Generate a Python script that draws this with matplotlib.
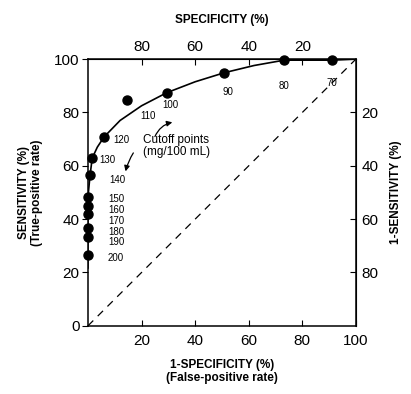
import matplotlib.pyplot as plt
import numpy as np

plt.rcParams['font.family'] = ['Liberation Sans', 'DejaVu Sans']

# cutoff points (mg/100 mL) and their ROC coordinates
cutoffs = [200, 190, 180, 170, 160, 150, 140, 130, 120, 110, 100, 90, 80, 70]
fpr = [0, 0, 0, 0, 0, 0, 0.8, 1.6, 6.0, 14.7, 29.4, 50.9, 73.2, 91.2]
tpr = [26.6, 33.3, 36.7, 41.9, 44.9, 48.3, 56.6, 62.9, 70.8, 84.5, 87.4, 94.9, 99.6, 99.6]

# hand-drawn fitted curve (skips the 110 point)
curve_x = [0, 0, 0, 0.8, 1.6, 3.5, 6.0, 12, 20, 29.4, 40, 50.9, 62, 73.2, 91.2, 100]
curve_y = [21.7, 26.6, 48.3, 56.6, 62.9, 67, 70.8, 77, 82.5, 87.4, 91.5, 94.9, 97.6, 99.6, 99.6, 100]

# where each cutoff label sits
lab_x = [7.5, 7.5, 7.5, 7.5, 7.5, 7.5, 7.8, 4.2, 9.5, 19.5, 30.6, 52.4, 73.2, 91.2]
lab_y = [25.4, 31.3, 35.3, 39.3, 43.4, 47.5, 54.5, 62.0, 69.5, 78.6, 82.7, 87.6, 89.9, 91.1]

fig = plt.figure(figsize=(4.11, 3.94), dpi=100)
ax = fig.add_axes([0.214, 0.173, 0.652, 0.677])

ax.plot([0, 100], [0, 100], ls=(0, (6, 5)), color='black', lw=0.9)
ax.plot(curve_x, curve_y, color='black', lw=1.2)
ax.plot(fpr, tpr, 'o', color='black', ms=6.5, clip_on=False)

for i in range(len(cutoffs)):
    ha = 'center' if cutoffs[i] <= 100 else 'left'
    ax.text(lab_x[i], lab_y[i], str(cutoffs[i]), fontsize=7, ha=ha, va='center')

ax.text(20.5, 67.4, 'Cutoff points\n(mg/100 mL)', fontsize=8.5, ha='left', va='center',
        linespacing=1.0)
ax.annotate('', xy=(32.5, 76.5), xytext=(24.6, 70.0),
            arrowprops=dict(arrowstyle='-|>', color='black', lw=0.9,
                            connectionstyle='arc3,rad=-0.3', mutation_scale=8))
ax.annotate('', xy=(13.8, 56.9), xytext=(17.5, 65.7),
            arrowprops=dict(arrowstyle='-|>', color='black', lw=0.9,
                            connectionstyle='arc3,rad=0.1', mutation_scale=8))

ax.set_xlim(0, 100)
ax.set_ylim(0, 100)
ax.set_xticks([20, 40, 60, 80, 100])
ax.set_yticks([0, 20, 40, 60, 80, 100])
ax.tick_params(axis='x', direction='in', length=4, labelsize=11, pad=6)
ax.tick_params(axis='y', direction='out', length=4, labelsize=11, pad=2)
for s in ax.spines.values():
    s.set_linewidth(1.1)

top = ax.secondary_xaxis('top', functions=(lambda x: 100 - x, lambda x: 100 - x))
top.set_xticks([80, 60, 40, 20])
top.tick_params(direction='in', length=4, labelsize=11, pad=4)
right = ax.secondary_yaxis('right', functions=(lambda y: 100 - y, lambda y: 100 - y))
right.set_yticks([20, 40, 60, 80])
right.tick_params(direction='in', length=4, labelsize=11, pad=4)

ax.set_xlabel('1-SPECIFICITY (%)\n(False-positive rate)', fontsize=8.5,
              fontweight='bold', labelpad=8, linespacing=1.1)
ax.set_ylabel('SENSITIVITY (%)\n(True-positive rate)', fontsize=8.5,
              fontweight='bold', labelpad=8, linespacing=1.1)
top.set_xlabel('SPECIFICITY (%)', fontsize=8.5, fontweight='bold', labelpad=12)
right.set_ylabel('1-SENSITIVITY (%)', fontsize=8.5, fontweight='bold', labelpad=8)

fig.savefig('out.png', dpi=100)
